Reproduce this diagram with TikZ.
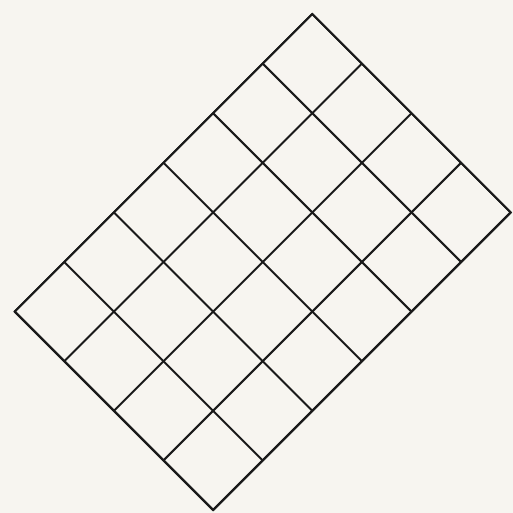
\documentclass[tikz,border=0pt]{standalone}
\definecolor{bg}{HTML}{F7F5F0}
\definecolor{ink}{HTML}{1A1A1A}
\begin{document}
\begin{tikzpicture}[x=1pt,y=-1pt,gridline/.style={draw=ink,line width=2pt,line join=miter,line cap=butt}]
\fill[bg] (0,0) rectangle (513,513);
\useasboundingbox (0,0) rectangle (513,513);
\def\s{49.6}
% lines parallel to the down-left direction (starting on the top-right edge)
\foreach \i in {0,...,4}{
  \draw[gridline] ({312.3+\s*\i},{14+\s*\i}) -- ++({-6*\s},{6*\s});
}
% lines parallel to the down-right direction (starting on the top-left edge)
\foreach \j in {0,...,6}{
  \draw[gridline] ({312.3-\s*\j},{14+\s*\j}) -- ++({4*\s},{4*\s});
}
% closed outline for clean corners
\draw[gridline] (312.3,14) -- ++({4*\s},{4*\s}) -- ++({-6*\s},{6*\s}) -- ++({-4*\s},{-4*\s}) -- cycle;
\end{tikzpicture}
\end{document}
